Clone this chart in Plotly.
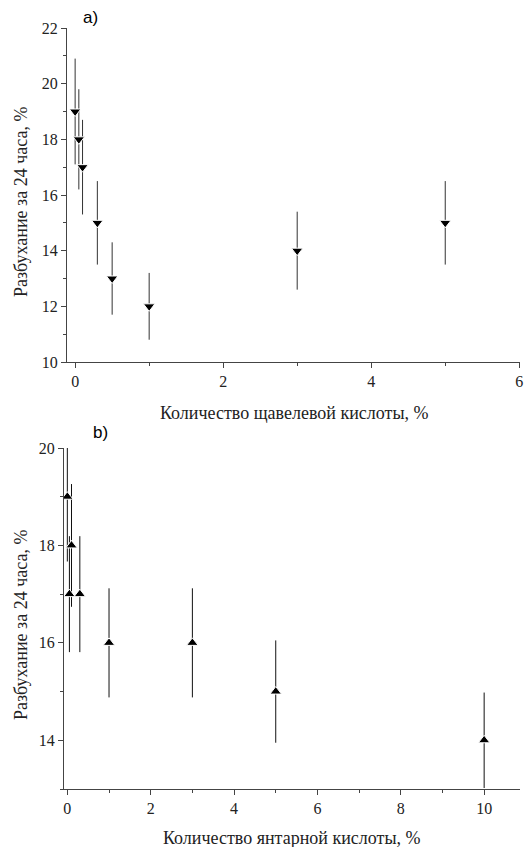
import plotly.graph_objects as go

# Panel a) — oxalic acid
a_x = [0, 0.05, 0.1, 0.3, 0.5, 1, 3, 5]
a_y = [19, 18, 17, 15, 13, 12, 14, 15]
a_err = [1.9, 1.8, 1.7, 1.5, 1.3, 1.2, 1.4, 1.5]

# Panel b) — succinic acid
b_x = [0, 0.1, 0.05, 0.3, 1, 3, 5, 10]
b_y = [19, 18, 17, 17, 16, 16, 15, 14]
b_err = [1.33, 1.26, 1.19, 1.19, 1.12, 1.12, 1.05, 0.98]

W, H = 524, 847
SERIF = "Liberation Serif"
SANS = "Liberation Sans"

fig = go.Figure()
fig.add_trace(go.Scatter(
    x=a_x, y=a_y, mode="markers", xaxis="x", yaxis="y",
    marker=dict(symbol="triangle-down", size=10, color="black",
                line=dict(color="white", width=1)),
    error_y=dict(type="data", array=a_err, visible=True, color="#333",
                 thickness=1, width=0),
    showlegend=False))
fig.add_trace(go.Scatter(
    x=b_x, y=b_y, mode="markers", xaxis="x2", yaxis="y2",
    marker=dict(symbol="triangle-up", size=10, color="black",
                line=dict(color="white", width=1)),
    error_y=dict(type="data", array=b_err, visible=True, color="#111",
                 thickness=1, width=0),
    showlegend=False))

def px_x(p):
    return p / W

def px_y(p):
    return 1 - p / H

axis_common = dict(showline=True, linecolor="#444", linewidth=1, ticks="outside",
                   ticklen=5, tickcolor="#444", showgrid=False, zeroline=False,
                   automargin=False,
                   tickfont=dict(family=SERIF, size=16, color="#222"),
                   minor=dict(ticks="outside", ticklen=3, tickcolor="#444"))

fig.update_layout(
    width=W, height=H, margin=dict(l=0, r=0, t=0, b=0, autoexpand=False),
    paper_bgcolor="white", plot_bgcolor="white", hovermode=False,
    xaxis=dict(domain=[px_x(67), px_x(520)], anchor="y", range=[-0.11, 6.01],
               tick0=0, dtick=2, minor_dtick=1, **axis_common),
    yaxis=dict(domain=[px_y(362), px_y(28)], anchor="x", range=[10, 22],
               tick0=10, dtick=2, minor_dtick=1, **axis_common),
    xaxis2=dict(domain=[px_x(64), px_x(520)], anchor="y2", range=[-0.08, 10.86],
                tick0=0, dtick=2, minor_dtick=1, **axis_common),
    yaxis2=dict(domain=[px_y(789), px_y(448)], anchor="x2", range=[13, 20],
                tick0=14, dtick=2, minor_dtick=1, **axis_common),
)

ann = [
    dict(text="a)", x=px_x(90), y=px_y(18), font=dict(family=SANS, size=17, color="black")),
    dict(text="b)", x=px_x(100), y=px_y(432), font=dict(family=SANS, size=17, color="black")),
    dict(text="Количество щавелевой кислоты, %", x=px_x(294), y=px_y(413),
         font=dict(family=SERIF, size=18, color="#222")),
    dict(text="Количество янтарной кислоты, %", x=px_x(292), y=px_y(838),
         font=dict(family=SERIF, size=18, color="#222")),
    dict(text="Разбухание за 24 часа, %", x=px_x(21), y=px_y(202), textangle=-90,
         font=dict(family=SERIF, size=18, color="#222")),
    dict(text="Разбухание за 24 часа, %", x=px_x(21), y=px_y(625), textangle=-90,
         font=dict(family=SERIF, size=18, color="#222")),
]
for a in ann:
    a.update(xref="paper", yref="paper", showarrow=False, xanchor="center", yanchor="middle")
fig.update_layout(annotations=ann)

# remove the default 8px body margin so the 524x847 figure fills the window exactly
fig.write_html("out.html", config={"displayModeBar": False},
               post_script="document.body.style.margin='0';document.body.style.overflow='hidden';")
